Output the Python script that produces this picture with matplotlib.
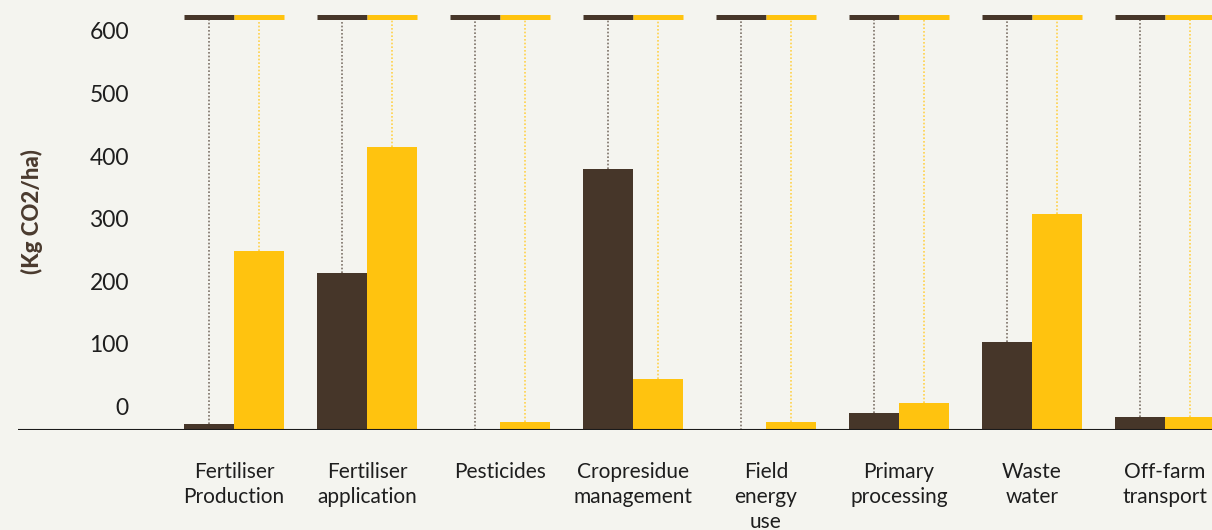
import matplotlib.pyplot as plt
import matplotlib.transforms as mtransforms
import numpy as np

categories = ["Fertiliser\nProduction", "Fertiliser\napplication", "Pesticides",
              "Cropresidue\nmanagement", "Field\nenergy\nuse", "Primary\nprocessing",
              "Waste\nwater", "Off-farm\ntransport"]
dark_values = [10, 251, 0, 417, 0, 27, 141, 21]
yellow_values = [286, 452, 13, 81, 13, 43, 345, 21]
y_ticks = [0, 100, 200, 300, 400, 500, 600]

BG = "#f4f4ef"
DARK = "#463629"
YELLOW = "#ffc30f"
CAP = 659
BAR_W = 0.376

plt.rcParams['font.family'] = ['Lato', 'DejaVu Sans']

fig = plt.figure(figsize=(12.12, 5.30), dpi=100, facecolor=BG)
# axes runs past the right edge like the original
ax = fig.add_axes([18 / 1212, 100 / 530, (1262 - 18) / 1212, 425.7 / 530])
ax.set_facecolor(BG)

x = np.arange(len(categories))
xd = x - BAR_W / 2
xy = x + BAR_W / 2

ax.bar(xd, dark_values, BAR_W, color=DARK, zorder=3)
ax.bar(xy, yellow_values, BAR_W, color=YELLOW, zorder=3)

# dotted guides from the top caps down to each bar
ax.vlines(xd, dark_values, CAP, colors="#7d7268", linestyles=(0, (1, 1.2)), linewidth=1.2, zorder=2)
ax.vlines(xy, yellow_values, CAP, colors="#ffd24a", linestyles=(0, (1, 1.2)), linewidth=1.2, zorder=2)

# caps at the top
ax.hlines([CAP] * len(x), xd - BAR_W / 2, xd + BAR_W / 2, colors=DARK, linewidth=3.6, zorder=3)
ax.hlines([CAP] * len(x), xy - BAR_W / 2, xy + BAR_W / 2, colors=YELLOW, linewidth=3.6, zorder=3)

ax.axhline(0, color="#1a1a1a", linewidth=1.5, zorder=4)

ax.set_xlim(-1.625, 7.73)
ax.set_ylim(0, 680)

for s in ax.spines.values():
    s.set_visible(False)

ax.set_xticks([])
ax.set_yticks(y_ticks)
ax.tick_params(axis='y', length=0, pad=0)
ax.set_yticklabels([str(v) for v in y_ticks], fontsize=16.5, color="#1e1e1e", fontweight='normal')
offset = mtransforms.ScaledTranslation(111 / 100, 23.5 / 100, fig.dpi_scale_trans)
for lbl in ax.get_yticklabels():
    lbl.set_transform(lbl.get_transform() + offset)
    lbl.set_horizontalalignment('right')

for xi, cat in zip(x, categories):
    ax.text(xi, -51, cat, ha='center', va='top', fontsize=15, color="#1e1e1e",
            fontweight='normal', linespacing=1.33, zorder=5)

fig.text(32 / 1212, 1 - 212 / 530, "(Kg CO2/ha)", rotation=90, ha='center', va='center',
         fontsize=16, fontweight='black', color="#4a3a2e")

fig.savefig("out.png", dpi=100, facecolor=BG)
